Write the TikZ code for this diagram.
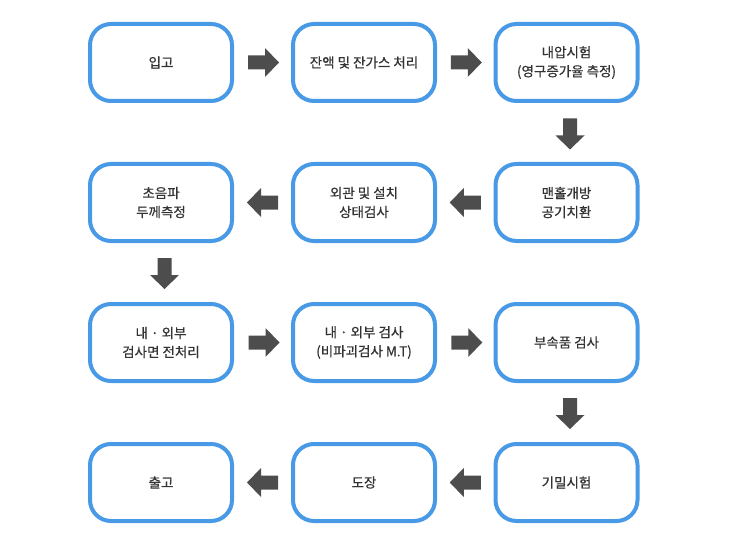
\documentclass[tikz,border=0pt]{standalone}
\usepackage{fontspec}
\setmainfont{Noto Sans CJK KR}[FakeBold=0.6]
\definecolor{boxblue}{HTML}{4899E6}
\definecolor{arrgray}{HTML}{4D4D4D}
\definecolor{txtgray}{HTML}{333333}
\begin{document}
\begin{tikzpicture}[x=1pt,y=-1pt,
  stepbox/.style={draw=boxblue, line width=4pt, rounded corners=21pt, fill=white,
    minimum width=142pt, minimum height=77pt, inner sep=0pt, align=center,
    text=txtgray, font=\fontsize{13.5}{19}\selectfont},
  blockarrow/.pic={\fill[arrgray] (-15.5,-7) -- (1.5,-7) -- (1.5,-14.5) -- (15.5,0)
      -- (1.5,14.5) -- (1.5,7) -- (-15.5,7) -- cycle;},
  arr/.style={pos=0.5, sloped, allow upside down}
]
\useasboundingbox (0,0) rectangle (730,548);
% row 1
\node[stepbox] (a1) at (161,62.5) {입고};
\node[stepbox] (a2) at (364,62.5) {잔액 및 잔가스 처리};
\node[stepbox] (a3) at (566.5,62.5) {내압시험\\(영구증가율 측정)};
% row 2
\node[stepbox] (b3) at (566.5,202.5) {맨홀개방\\공기치환};
\node[stepbox] (b2) at (364,202.5) {외관 및 설치\\상태검사};
\node[stepbox] (b1) at (161,202.5) {초음파\\두께측정};
% row 3
\node[stepbox] (c1) at (161,342.5) {내 · 외부\\검사면 전처리};
\node[stepbox] (c2) at (364,342.5) {내 · 외부 검사\\(비파괴검사 M.T)};
\node[stepbox] (c3) at (566.5,342.5) {부속품 검사};
% row 4
\node[stepbox] (d3) at (566.5,482.5) {기밀시험};
\node[stepbox] (d2) at (364,482.5) {도장};
\node[stepbox] (d1) at (161,482.5) {출고};
% arrows
\path ([xshift=1pt]a1.east) -- ([xshift=1pt]a2.west) pic[arr]{blockarrow};
\path ([xshift=1pt]a2.east) -- ([xshift=1pt]a3.west) pic[arr]{blockarrow};
\path ([xshift=3.5pt,yshift=-1.5pt]a3.south) -- ([xshift=3.5pt,yshift=-1.5pt]b3.north) pic[arr]{blockarrow};
\path (b3.west) -- (b2.east) pic[arr]{blockarrow};
\path (b2.west) -- (b1.east) pic[arr]{blockarrow};
\path ([xshift=3.5pt,yshift=-1pt]b1.south) -- ([xshift=3.5pt,yshift=-1pt]c1.north) pic[arr]{blockarrow};
\path ([xshift=1.5pt]c1.east) -- ([xshift=1.5pt]c2.west) pic[arr]{blockarrow};
\path ([xshift=1.5pt]c2.east) -- ([xshift=1.5pt]c3.west) pic[arr]{blockarrow};
\path ([xshift=3.5pt,yshift=-1pt]c3.south) -- ([xshift=3.5pt,yshift=-1pt]d3.north) pic[arr]{blockarrow};
\path (d3.west) -- (d2.east) pic[arr]{blockarrow};
\path (d2.west) -- (d1.east) pic[arr]{blockarrow};
\end{tikzpicture}
\end{document}
